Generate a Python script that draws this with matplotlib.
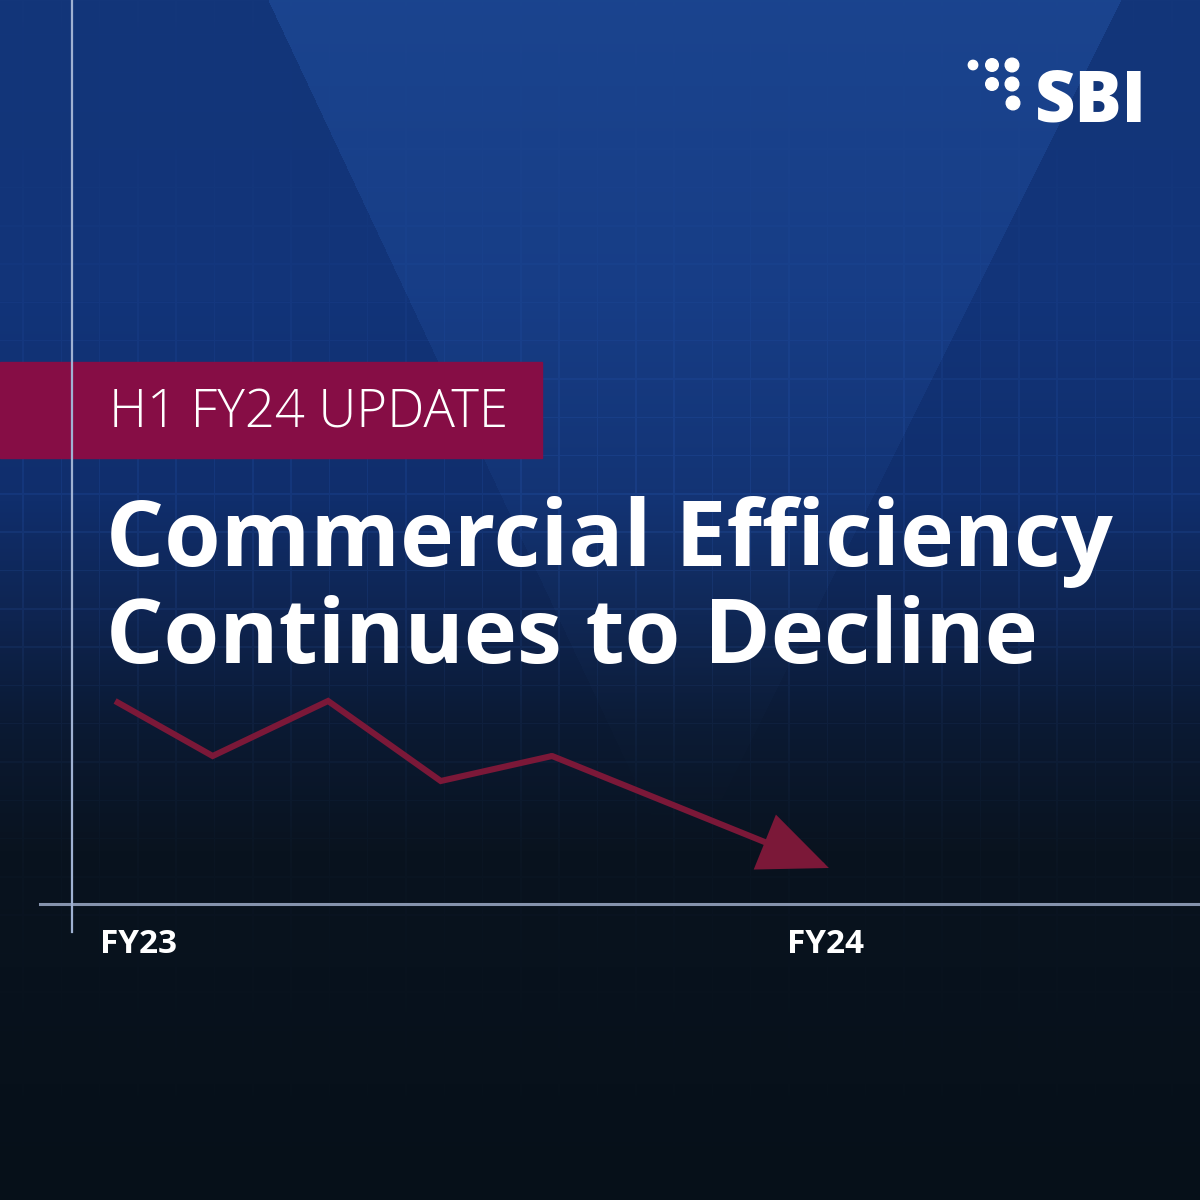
import numpy as np
import matplotlib.pyplot as plt
from matplotlib.patches import Rectangle, Circle
from matplotlib.colors import to_rgb

## chart data
periods    = ['FY23', 'FY24']
period_pos = [0.0, 1.0]
x_vals     = [0.022, 0.164, 0.332, 0.496, 0.658, 1.061]   # fraction of a year from FY23
eff_vals   = [2.03, 1.48, 2.03, 1.23, 1.48, 0.36]         # efficiency index (arbitrary units)

banner_txt = 'H1 FY24 UPDATE'
title_1    = 'Commercial Efficiency'
title_2    = 'Continues to Decline'
logo_txt   = 'SBI'

W = H = 1200
red   = '#7b1838'
ban_c = '#860d45'

## background image -----------------------------------------------------
yy, xx = np.mgrid[0:H, 0:W].astype(float)
stops = [0, 300, 500, 620, 720, 850, 1200]
cols  = ['#13367a', '#123479', '#102e6c', '#0e2450', '#0b1a34', '#09131f', '#061019']
rgb = np.array([to_rgb(c) for c in cols])
img = np.zeros((H, W, 3))
for k in range(3):
    img[:, :, k] = np.interp(yy, stops, rgb[:, k])

# lighter V wedge
xl = 268 + 0.47*yy
xr = 1121 - 0.50*yy
wedge = (xx > xl) & (xx < xr)
fade = np.clip(1 - yy/820.0, 0, 1)
img += wedge[:, :, None]*fade[:, :, None]*np.array([0.03, 0.055, 0.08])

# faint grid
gx = (np.abs(((xx - 980) % 38.3) - 19.15) > 18.4)
gy = (np.abs(((yy - 531.7) % 38.3) - 19.15) > 18.4)
gvis = np.exp(-((yy - 550)/260.0)**2)
img += ((gx | gy)*gvis)[:, :, None]*np.array([0.02, 0.035, 0.06])
img = np.clip(img, 0, 1)

fig = plt.figure(figsize=(12, 12), dpi=100)
bg = fig.add_axes([0, 0, 1, 1])
bg.imshow(img, extent=(0, W, H, 0), aspect='auto', zorder=0)
bg.set_xlim(0, W)
bg.set_ylim(H, 0)
bg.axis('off')

## banner
bg.add_patch(Rectangle((0, 362), 542, 96, color=ban_c, zorder=2))

## logo dots
dots = [(973, 65, 4.7), (992, 65, 6.3), (1012, 65, 6.8),
        (992, 84, 6.3), (1012, 84, 6.8), (1013, 103, 6.8)]
for dx_, dy_, r_ in dots:
    bg.add_patch(Circle((dx_, dy_), r_, color='white', zorder=3))

renderer = fig.canvas.get_renderer()

def fit_text(t, width_px):
    bb = t.get_window_extent(renderer=renderer)
    t.set_fontsize(t.get_fontsize()*width_px/bb.width)
    return t.get_fontsize()

t = bg.text(109, 427, banner_txt, color='white', fontsize=30, family='Open Sans',
            fontweight='light', va='baseline', ha='left', zorder=4)
fit_text(t, 399)
t = bg.text(106, 566, title_1, color='white', fontsize=55, family='Open Sans',
            fontweight='bold', va='baseline', ha='left', zorder=4)
fit_text(t, 1007)
t = bg.text(106, 663, title_2, color='white', fontsize=55, family='Open Sans',
            fontweight='bold', va='baseline', ha='left', zorder=4)
fit_text(t, 932)
t = bg.text(1035, 122, logo_txt, color='white', fontsize=40, family='Open Sans',
            fontweight='heavy', va='baseline', ha='left', zorder=4)
fit_text(t, 112)

# size for the period labels, measured on a throw-away text
t = bg.text(0, 0, periods[0], fontsize=20, family='Open Sans', fontweight='bold')
lab_size = fit_text(t, 77)
t.remove()

## chart axes -----------------------------------------------------------
ax = fig.add_axes([72/W, (H-904)/H, (W-72)/W, 904/H])
ax.patch.set_alpha(0)
for s in ax.spines.values():
    s.set_visible(False)
ax.set_xlim((72-100)/687.0, (W-100)/687.0)
ax.set_ylim(0, 9.04)
ax.set_yticks([])
ax.set_xticks(period_pos)
ax.set_xticklabels(periods)
ax.tick_params(axis='x', length=0, pad=17)
for lab in ax.get_xticklabels():
    lab.set_ha('left')
    lab.set_color('white')
    lab.set_family('Open Sans')
    lab.set_fontweight('bold')
    lab.set_fontsize(lab_size)

# axis lines
ax.plot([-0.028, 1], [0, 0], transform=ax.transAxes, color='#8593ad', lw=2.2,
        clip_on=False, zorder=2)
ax.plot([0, 0], [-0.031, 1], transform=ax.transAxes, color='#9fb1d2', lw=1.6,
        clip_on=False, zorder=2)

# declining line with arrow on last leg
ax.plot(x_vals[:-1], eff_vals[:-1], color=red, lw=4.4, solid_joinstyle='miter',
        solid_capstyle='butt', zorder=3)
ax.annotate('', xy=(x_vals[-1], eff_vals[-1]), xytext=(x_vals[-2], eff_vals[-2]),
            arrowprops=dict(arrowstyle='-|>,head_length=0.7,head_width=0.3',
                            mutation_scale=60, color=red, lw=4.4,
                            shrinkA=0, shrinkB=0, joinstyle='miter'),
            zorder=3)

fig.savefig('out.png', dpi=100)
